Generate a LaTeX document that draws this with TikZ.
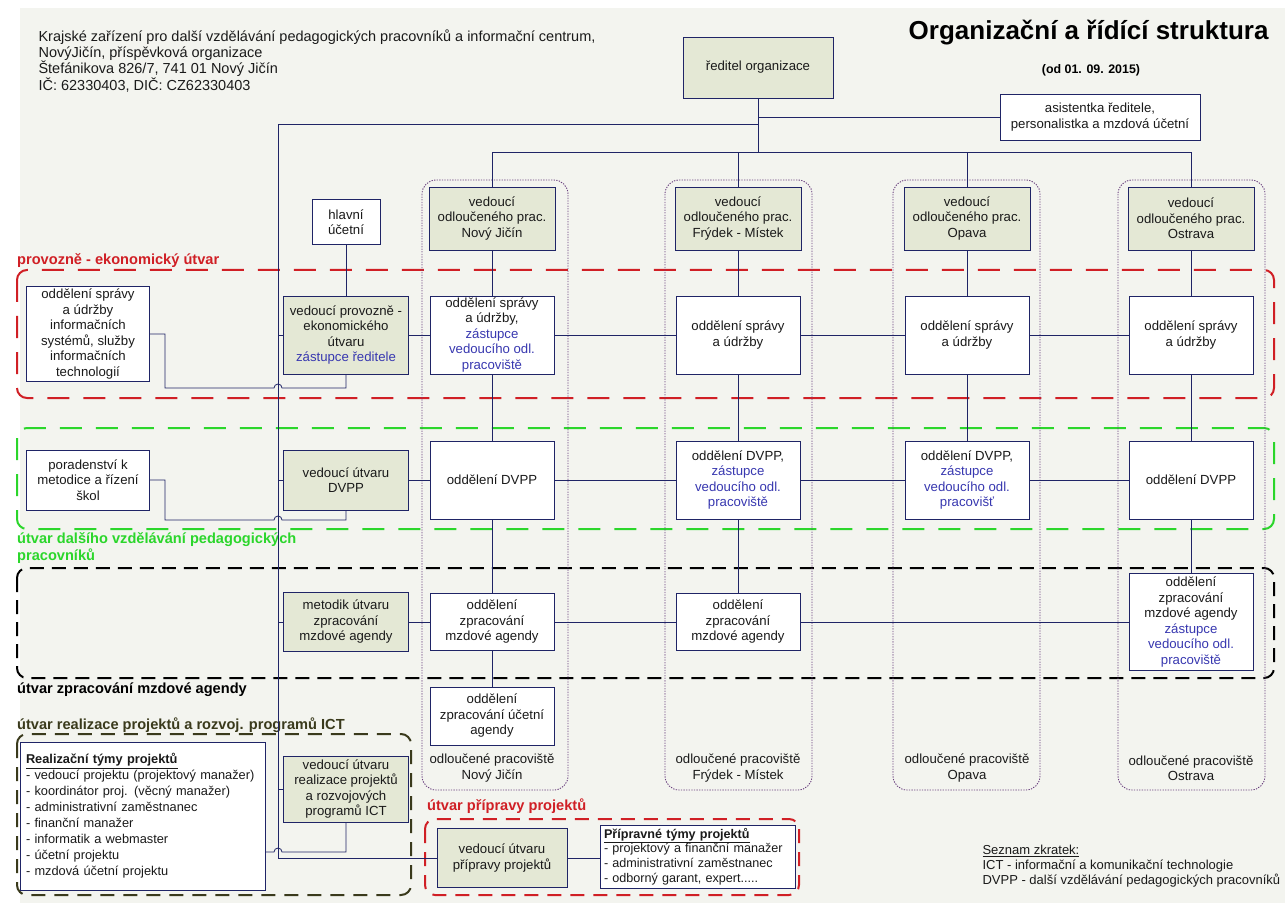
\documentclass[tikz,border=0pt]{standalone}
\usepackage{fontspec}
\setmainfont{Liberation Sans}
\usetikzlibrary{positioning}

\definecolor{navy}{HTML}{1F2466}
\definecolor{leadfill}{HTML}{E4E8D5}
\definecolor{sheet}{HTML}{F3F4EF}
\definecolor{deputy}{HTML}{3838B0}
\definecolor{zonered}{HTML}{D01F25}
\definecolor{zonegreen}{HTML}{2BD62B}
\definecolor{zoneolive}{HTML}{3A3A1C}
\definecolor{branchcol}{HTML}{6A3F7E}
\definecolor{ink}{HTML}{1A1A1A}

\newcommand\dep[1]{\textcolor{deputy}{#1}}

\begin{document}
\begin{tikzpicture}[x=1pt, y=-1pt, font=\fontsize{13.2}{15.5}\selectfont,
  box/.style={draw=navy, fill=white, text=ink, line width=0.9pt, align=center, inner sep=1pt},
  lead/.style={box, fill=leadfill},
  wh/.style 2 args={minimum width=#1pt, minimum height=#2pt},
  wire/.style={draw=navy, line width=0.8pt},
  zone/.style={line width=2pt, rounded corners=10pt},
  branch/.style={draw=branchcol, line width=0.9pt, dash pattern=on 1.3pt off 1.3pt, rounded corners=14pt},
  zonelabel/.style={font=\fontsize{14.6}{17}\selectfont\bfseries, align=left, inner sep=1pt}]

  \useasboundingbox (0,0) rectangle (1285,909);
  \fill[white] (0,0) rectangle (1285,909);
  \fill[sheet] (20,8) rectangle (1285,903);

 %zones
  \draw[zone, zonered, dash pattern=on 22pt off 14pt] (17,270) rectangle (1274,398);
  \draw[zone, zonegreen, dash pattern=on 22pt off 14pt] (17,428) rectangle (1274,529);
  \draw[zone, black, dash pattern=on 14pt off 8pt] (17,568) rectangle (1274,678);
  \draw[zone, zoneolive, dash pattern=on 14pt off 9pt] (17,734) rectangle (411,895);
  \draw[zone, zonered, dash pattern=on 14pt off 9pt] (425,819) rectangle (799,895);

 %branch frames
  \foreach \xa/\xb in {422/568, 665/812, 893/1040, 1118/1265}
     \draw[branch] (\xa,180) rectangle (\xb,790);

 %header
  \node[anchor=north west, align=left, text=ink, font=\fontsize{14.5}{16.3}\selectfont] (addr) at (35,26)
     {Krajské zařízení pro další vzdělávání pedagogických pracovníků a informační centrum,\\
      NovýJičín, příspěvková organizace\\
      Štefánikova 826/7, 741 01 Nový Jičín\\
      IČ: 62330403, DIČ: CZ62330403};
  \node[anchor=east, font=\fontsize{26}{28}\selectfont\bfseries] (title) at (1272,33) {Organizační a řídící struktura};
  \node[font=\fontsize{12.4}{14}\selectfont\bfseries] (date) at (1091,70) {(od 01. 09. 2015)};

 %director
  \node[lead, wh={150}{61}] (dir) at (758,67.5) {ředitel organizace};
  \node[box, wh={200}{46}] (asst) at (1100,117) {asistentka ředitele,\\personalistka a mzdová účetní};

 %branches
  \foreach \x/\name/\town in {492/NJ/Nový Jičín, 738/FM/Frýdek - Místek, 967/OP/Opava, 1191/OS/Ostrava} {
     \node[lead, wh={126}{63}] (h\name) at (\x,218.5) {vedoucí\\odloučeného prac.\\\town};
     \node[align=center, text=ink] (f\name) at (\x,768) {odloučené pracoviště\\\town};
  }

 %row 1
  \node[box, wh={124}{78}] (sNJ) at (492,335) {oddělení správy\\a údržby,\\\dep{zástupce}\\\dep{vedoucího odl.}\\\dep{pracoviště}};
  \foreach \x/\name in {738/FM, 967/OP, 1191/OS}
     \node[box, wh={124}{78}] (s\name) at (\x,335) {oddělení správy\\a údržby};

 %row 2
  \node[box, wh={124}{78}] (dNJ) at (492,480) {oddělení DVPP};
  \node[box, wh={124}{78}] (dFM) at (738,480) {oddělení DVPP,\\\dep{zástupce}\\\dep{vedoucího odl.}\\\dep{pracoviště}};
  \node[box, wh={124}{78}] (dOP) at (967,480) {oddělení DVPP,\\\dep{zástupce}\\\dep{vedoucího odl.}\\\dep{pracovišť}};
  \node[box, wh={124}{78}] (dOS) at (1191,480) {oddělení DVPP};

 %row 3
  \node[box, wh={124}{57}] (mNJ) at (492,622) {oddělení\\zpracování\\mzdové agendy};
  \node[box, wh={124}{57}] (mFM) at (738,622) {oddělení\\zpracování\\mzdové agendy};
  \node[box, wh={124}{97}] (mOS) at (1191,622) {oddělení\\zpracování\\mzdové agendy\\\dep{zástupce}\\\dep{vedoucího odl.}\\\dep{pracoviště}};
  \node[box, wh={124}{58}] (uNJ) at (492,716) {oddělení\\zpracování účetní\\agendy};

 %lead column
  \node[box, wh={68}{45}] (acc) at (346,222) {hlavní\\účetní};
  \node[lead, wh={125}{78}] (lPE) at (346,335) {vedoucí provozně -\\ekonomického\\útvaru\\\dep{zástupce ředitele}};
  \node[lead, wh={125}{60}] (lDV) at (346,480) {vedoucí útvaru\\DVPP};
  \node[lead, wh={125}{59}] (lMZ) at (346,622) {metodik útvaru\\zpracování\\mzdové agendy};
  \node[lead, wh={125}{66}] (lRE) at (346,789) {vedoucí útvaru\\realizace projektů\\a rozvojových\\programů ICT};

 %left column
  \node[box, wh={123}{95}] (it) at (88,334) {oddělení správy\\a údržby\\informačních\\systémů, služby\\informačních\\technologií};
  \node[box, wh={123}{60}] (por) at (88,480) {poradenství k\\metodice a řízení\\škol};

 %projects
  \node[box, text width=233pt, inner xsep=6pt, minimum height=148pt, align=left, font=\fontsize{12.8}{16}\selectfont] (real) at (142.5,816)
     {\underline{\textbf{Realizační týmy projektů}}\\
      - vedoucí projektu (projektový manažer)\\
      - koordinátor proj. (věcný manažer)\\
      - administrativní zaměstnanec\\
      - finanční manažer\\
      - informatik a webmaster\\
      - účetní projektu\\
      - mzdová účetní projektu};
  \node[lead, wh={130}{59}] (prep) at (502,858) {vedoucí útvaru\\přípravy projektů};
  \node[box, text width=187pt, inner xsep=4pt, minimum height=63pt, align=left, font=\fontsize{12.6}{14.6}\selectfont] (team) at (697.5,856.5)
     {\underline{\textbf{Přípravné týmy projektů}}\\
      - projektový a finanční manažer\\
      - administrativní zaměstnanec\\
      - odborný garant, expert.....};

 %zone labels
  \node[zonelabel, text=zonered, anchor=west] (lab1) at (16,261) {provozně - ekonomický útvar};
  \node[zonelabel, text=zonegreen, anchor=north west] (lab2) at (16,531) {útvar dalšího vzdělávání pedagogických\\pracovníků};
  \node[zonelabel, text=black, anchor=west] (lab3) at (16,690) {útvar zpracování mzdové agendy};
  \node[zonelabel, text=zoneolive, anchor=west] (lab4) at (16,725) {útvar realizace projektů a rozvoj. programů ICT};
  \node[zonelabel, text=zonered, anchor=west] (lab5) at (426,806) {útvar přípravy projektů};

 %legend
  \node[anchor=north west, align=left, text=ink, font=\fontsize{13}{15}\selectfont] (abbr) at (979,842)
     {\underline{Seznam zkratek:}\\ICT - informační a komunikační technologie\\DVPP - další vzdělávání pedagogických pracovníků};

 %director lines
  \coordinate (hub) at (758,152);
  \coordinate (trunktop) at (278,124);
  \coordinate (trunkbot) at (278,858);
  \draw[wire] (dir.south) -- (hub);
  \draw[wire] (dir.south |- asst) -- (asst.west);
  \draw[wire] (dir.south |- trunktop) -- (trunktop) -- (trunkbot) -- (prep.west);
  \draw[wire] (hNJ.north |- hub) -- (hOS.north |- hub);
  \foreach \name in {NJ, FM, OP, OS}
     \draw[wire] (h\name.north) -- (h\name.north |- hub);

 %columns
  \draw[wire] (hNJ) -- (sNJ) -- (dNJ) -- (mNJ) -- (uNJ);
  \draw[wire] (hFM) -- (sFM) -- (dFM) -- (mFM);
  \draw[wire] (hOP) -- (sOP) -- (dOP);
  \draw[wire] (hOS) -- (sOS) -- (dOS) -- (mOS);

 %rows
  \draw[wire] (lPE) -- (sNJ) -- (sFM) -- (sOP) -- (sOS);
  \draw[wire] (lDV) -- (dNJ) -- (dFM) -- (dOP) -- (dOS);
  \draw[wire] (lMZ) -- (mNJ) -- (mFM) -- (mOS);
  \foreach \name in {lPE, lDV, lMZ, lRE}
     \draw[wire] (\name.west) -- (\name.west -| trunktop);
  \draw[wire] (acc) -- (lPE);
  \draw[wire] (prep) -- (prep -| team.west);

 %side boxes with hops over the trunk
  \coordinate (hop1) at (274,388);
  \coordinate (hop2) at (274,520);
  \coordinate (hop3) at (274,852);
  \draw[wire] (it.east) -- ++(15,0) |- (hop1) arc (180:360:4) -| (lPE.south);
  \draw[wire] (por.east) -- ++(15,0) |- (hop2) arc (180:360:4) -| (lDV.south);
  \draw[wire] (hop3 -| real.east) -- (hop3) arc (180:360:4) -| (lRE.south);

\end{tikzpicture}
\end{document}
